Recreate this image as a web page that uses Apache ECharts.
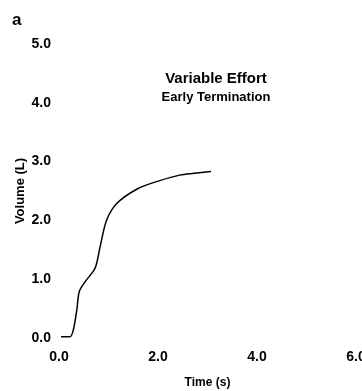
<!DOCTYPE html>
<html>
<head>
<meta charset="utf-8">
<script src="https://cdn.jsdelivr.net/npm/echarts@6/dist/echarts.min.js"></script>
<style>
  html, body { margin: 0; padding: 0; background: #fff; }
  #chart { width: 362px; height: 391px; }
</style>
</head>
<body>
<div id="chart"></div>
<script>
// 时间 (s)
const timeValues = [0.04, 0.22, 0.29, 0.36, 0.41, 0.53, 0.73, 0.83, 0.96, 1.17, 1.57, 1.97, 2.44, 2.73, 3.07]
// 容积 (L)
const volumeValues = [0.02, 0.02, 0.14, 0.48, 0.79, 0.96, 1.19, 1.55, 2.0, 2.29, 2.53, 2.66, 2.77, 2.8, 2.83]
const xTicks = [0, 2, 4, 6]
const yTicks = [0, 1, 2, 3, 4, 5]

const fontFamily = '"Liberation Sans Narrow", "Liberation Sans", Arial, sans-serif'
const wideFont = '"Liberation Sans", Arial, sans-serif'
const chart = echarts.init(document.getElementById('chart'))

chart.setOption({
  animation: false,
  textStyle: { fontFamily },
  title: {
    text: 'Variable Effort',
    subtext: 'Early Termination',
    left: 211,
    top: 66,
    textAlign: 'center',
    itemGap: 5,
    textStyle: { fontSize: 15, fontWeight: 'bold', color: '#000', fontFamily: wideFont },
    subtextStyle: { fontSize: 13, fontWeight: 'bold', color: '#000', fontFamily: wideFont }
  },
  graphic: [
    {
      type: 'text',
      left: 12,
      top: 12,
      style: { text: 'a', fontSize: 17, fontWeight: 'bold', fill: '#000', fontFamily: wideFont }
    }
  ],
  grid: { left: 59, top: 44, width: 297, height: 294, outerBoundsMode: 'none' },
  xAxis: {
    type: 'value',
    min: xTicks[0],
    max: xTicks[xTicks.length - 1],
    interval: 2,
    name: 'Time (s)',
    nameLocation: 'middle',
    nameGap: 39,
    nameMoveOverlap: false,
    nameTextStyle: { fontSize: 12, fontWeight: 'bold', color: '#000', fontFamily: wideFont },
    axisLine: { show: false },
    axisTick: { show: false },
    splitLine: { show: false },
    axisLabel: {
      margin: 12,
      fontSize: 14,
      fontWeight: 'bold',
      color: '#000',
      formatter: v => v.toFixed(1)
    }
  },
  yAxis: {
    type: 'value',
    min: yTicks[0],
    max: yTicks[yTicks.length - 1],
    interval: 1,
    name: 'Volume (L)',
    nameLocation: 'middle',
    nameGap: 32,
    nameMoveOverlap: false,
    nameTextStyle: { fontSize: 13, fontWeight: 'bold', color: '#000', fontFamily: wideFont },
    axisLine: { show: false },
    axisTick: { show: false },
    splitLine: { show: false },
    axisLabel: {
      margin: 8,
      fontSize: 14,
      fontWeight: 'bold',
      color: '#000',
      formatter: v => v.toFixed(1)
    }
  },
  series: [
    {
      type: 'line',
      data: timeValues.map((t, i) => [t, volumeValues[i]]),
      smooth: 0.3,
      symbol: 'none',
      lineStyle: { color: '#000', width: 1.5 }
    }
  ]
})
</script>
</body>
</html>
